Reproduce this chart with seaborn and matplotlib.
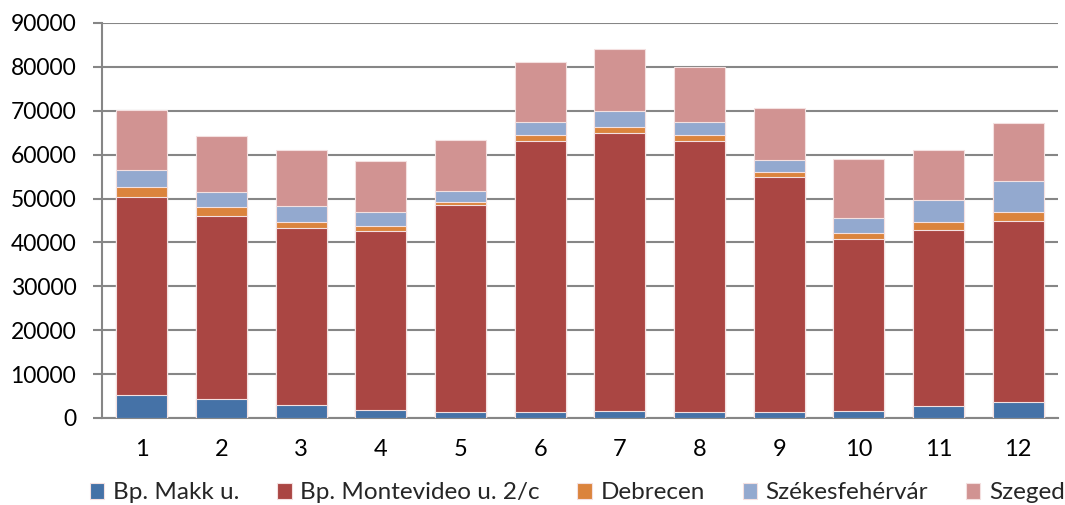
import numpy as np
import pandas as pd
import matplotlib
matplotlib.use("Agg")
import matplotlib.pyplot as plt
import seaborn as sns
from matplotlib.ticker import MultipleLocator, FixedLocator

months = [str(m) for m in range(1, 13)]
series_names = ["Bp. Makk u.", "Bp. Montevideo u. 2/c", "Debrecen", "Székesfehérvár", "Szeged"]
makk = [5250, 4410, 2970, 1830, 1370, 1440, 1670, 1440, 1440, 1520, 2740, 3730]
montevideo = [45090, 41520, 40300, 40830, 47150, 61680, 63270, 61750, 53540, 39320, 40150, 41060]
debrecen = [2280, 2130, 1370, 1060, 760, 1290, 1450, 1290, 1140, 1220, 1670, 2210]
szekesfehervar = [3960, 3350, 3650, 3270, 2510, 3120, 3500, 3040, 2590, 3420, 5100, 7070]
szeged = [13570, 12780, 12850, 11560, 11630, 13690, 14140, 12550, 12010, 13540, 11410, 13160]
colors = ["#4572A7", "#AA4643", "#DB843D", "#93A9CF", "#D19392"]

sns.set_theme(style="white")
plt.rcParams['font.family'] = ['Lato', 'DejaVu Sans']

values = np.array([makk, montevideo, debrecen, szekesfehervar, szeged], dtype=float)
cum = np.cumsum(values, axis=0)

fig = plt.figure(figsize=(10.65, 5.05), dpi=100)
ax = fig.add_axes([0.0958, 0.1723, 0.9934 - 0.0958, 0.9545 - 0.1723])

for i in reversed(range(len(series_names))):
    df = pd.DataFrame({"month": months, "value": cum[i]})
    sns.barplot(data=df, x="month", y="value", color=colors[i], width=0.64,
                saturation=1, edgecolor="#F4E0E0", linewidth=0.8, ax=ax,
                label=series_names[i], zorder=3)

h, l = ax.get_legend_handles_labels()
if ax.legend_ is not None:
    ax.legend_.remove()

ax.set_xlim(-0.5, 11.5)
ax.set_ylim(0, 90000)
ax.yaxis.set_major_locator(MultipleLocator(10000))
ax.grid(axis="y", color="#868686", linewidth=1.5, zorder=0)
ax.set_axisbelow(True)
ax.set_xlabel("")
ax.set_ylabel("")

for s in ["top", "right"]:
    ax.spines[s].set_visible(False)
for s in ["left", "bottom"]:
    ax.spines[s].set_color("#868686")
    ax.spines[s].set_linewidth(1.5)

ax.xaxis.set_minor_locator(FixedLocator(np.arange(-0.5, 12, 1)))
ax.tick_params(axis="x", which="major", length=0, labelsize=17, pad=15, colors="#000000")
ax.tick_params(axis="x", which="minor", length=5, width=1.5, color="#868686", direction="out")
ax.tick_params(axis="y", which="major", length=6.5, width=1.5, color="#868686", labelsize=16.5,
               direction="out", left=True, pad=12)
for lab in ax.get_yticklabels() + ax.get_xticklabels():
    lab.set_color("#000000")

order = [l.index(n) for n in series_names]
fig.legend([h[k] for k in order], [l[k] for k in order], loc="center",
           bbox_to_anchor=(0.542, 0.024), ncol=5, frameon=False, fontsize=17.5,
           handlelength=0.6, handleheight=0.6, handletextpad=0.35, columnspacing=1.55,
           borderpad=0, borderaxespad=0)

fig.savefig("out.png", dpi=100)
